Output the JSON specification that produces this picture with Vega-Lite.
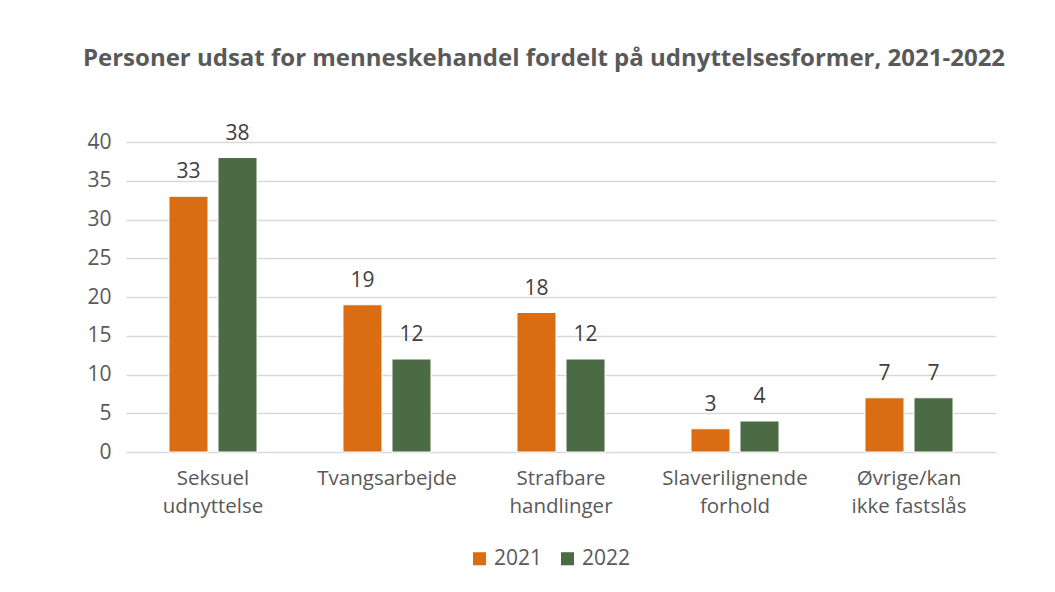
{
  "$schema": "https://vega.github.io/schema/vega-lite/v6.json",
  "width": 870,
  "height": 310,
  "autosize": {"type": "none"},
  "padding": {"left": 126, "top": 142, "right": 59, "bottom": 140},
  "background": "white",
  "title": {
    "text": "Personer udsat for menneskehandel fordelt på udnyttelsesformer, 2021-2022",
    "fontSize": 24,
    "fontWeight": "bold",
    "color": "#595959",
    "font": "Open Sans",
    "anchor": "middle",
    "dx": -17,
    "offset": 52
  },
  "data": {
    "values": [
      {"kategori": "Seksuel udnyttelse", "år": "2021", "antal": 33},
      {"kategori": "Seksuel udnyttelse", "år": "2022", "antal": 38},
      {"kategori": "Tvangsarbejde", "år": "2021", "antal": 19},
      {"kategori": "Tvangsarbejde", "år": "2022", "antal": 12},
      {"kategori": "Strafbare handlinger", "år": "2021", "antal": 18},
      {"kategori": "Strafbare handlinger", "år": "2022", "antal": 12},
      {"kategori": "Slaverilignende forhold", "år": "2021", "antal": 3},
      {"kategori": "Slaverilignende forhold", "år": "2022", "antal": 4},
      {"kategori": "Øvrige/kan ikke fastslås", "år": "2021", "antal": 7},
      {"kategori": "Øvrige/kan ikke fastslås", "år": "2022", "antal": 7}
    ]
  },
  "encoding": {
    "x": {
      "field": "kategori",
      "type": "nominal",
      "sort": null,
      "title": null,
      "scale": {"paddingInner": 0.494, "paddingOuter": 0.247},
      "axis": {
        "labelAngle": 0,
        "domain": false,
        "ticks": false,
        "labelPadding": 16,
        "labelLineHeight": 28,
        "labelFontSize": 20.5,
        "labelExpr": "datum.value == 'Øvrige/kan ikke fastslås' ? ['Øvrige/kan', 'ikke fastslås'] : split(datum.value, ' ')"
      }
    },
    "xOffset": {
      "field": "år",
      "type": "nominal",
      "scale": {"paddingInner": 0.204, "paddingOuter": 0}
    },
    "y": {
      "field": "antal",
      "type": "quantitative",
      "title": null,
      "scale": {"domain": [0, 40], "nice": false},
      "axis": {
        "values": [0, 5, 10, 15, 20, 25, 30, 35, 40],
        "domain": false,
        "ticks": false,
        "labelPadding": 15,
        "labelFontSize": 21,
        "gridColor": "#d9d9d9",
        "gridWidth": 1.5
      }
    },
    "color": {
      "field": "år",
      "type": "nominal",
      "scale": {"domain": ["2021", "2022"], "range": ["#DA6D14", "#4A6B43"]},
      "legend": {
        "title": null,
        "orient": "none",
        "direction": "horizontal",
        "legendX": 343,
        "legendY": 406,
        "symbolType": "square",
        "symbolSize": 170,
        "symbolStrokeWidth": 0,
        "labelFontSize": 21,
        "labelColor": "#595959",
        "labelFont": "Open Sans",
        "columnPadding": 14,
        "labelOffset": 4
      }
    }
  },
  "layer": [
    {
      "mark": {"type": "bar", "stroke": "white", "strokeWidth": 1}
    },
    {
      "mark": {"type": "text", "baseline": "bottom", "dy": -14, "fontSize": 21, "color": "#404040", "font": "Open Sans"},
      "encoding": {
        "text": {"field": "antal", "type": "quantitative"},
        "color": {"value": "#404040"}
      }
    }
  ],
  "config": {
    "view": {"stroke": null},
    "axis": {
      "labelFont": "Open Sans",
      "labelFontSize": 19,
      "labelColor": "#595959"
    }
  }
}
